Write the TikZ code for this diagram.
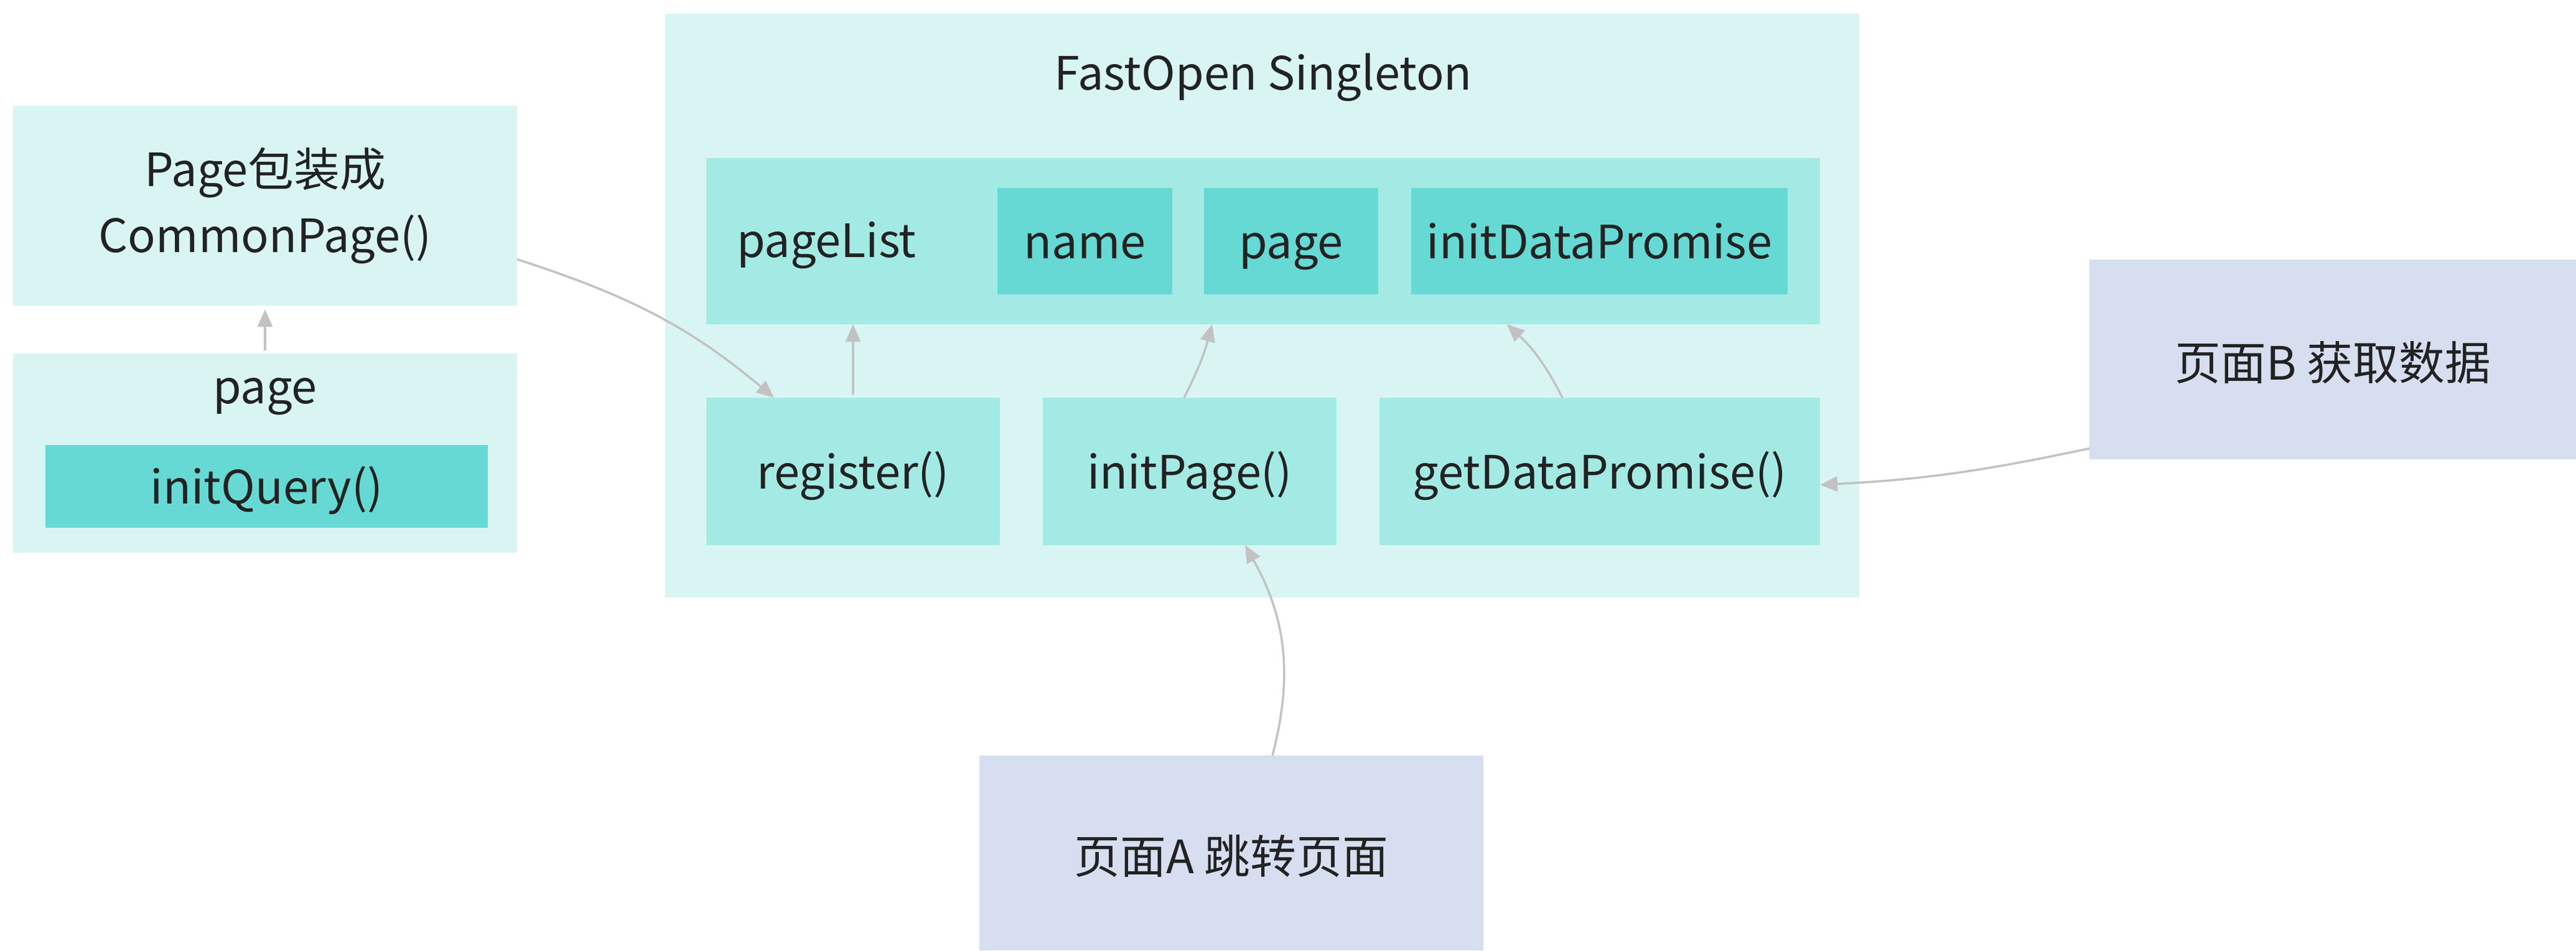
\documentclass[tikz,border=0pt]{standalone}
\usepackage{fontspec}
\setmainfont{Noto Sans CJK SC}
\usetikzlibrary{arrows.meta}
\definecolor{lightcyan}{HTML}{D8F5F4}
\definecolor{midcyan}{HTML}{A3EAE5}
\definecolor{darkcyan}{HTML}{66D9D4}
\definecolor{lavender}{HTML}{D6DEF0}
\definecolor{linegray}{HTML}{C2C2C2}
\definecolor{txt}{HTML}{222222}

\begin{document}
\begin{tikzpicture}[
		box/.style={inner sep=0pt,outer sep=0pt,text=txt,font=\fontsize{21}{30}\selectfont,align=center},
		oneline/.style={box,text height=16.2pt,text depth=0pt},
		outerbox/.style={box,fill=lightcyan},
		innerbox/.style={oneline,fill=midcyan},
		fieldbox/.style={oneline,fill=darkcyan},
		pagebox/.style={box,text height=18.5pt,text depth=0pt,fill=lavender},
		link/.style={draw=linegray,line width=1pt,->},
		>={Triangle[length=0.28cm,width=0.24cm]}
		]
		\useasboundingbox (0,0) rectangle (41.4,-15.27);
		
		% left side
		\node[outerbox,minimum width=8.1cm,minimum height=3.21cm] (wrap) at (4.26,-3.305) {Page包装成\\CommonPage()};
		\node[outerbox,minimum width=8.1cm,minimum height=3.2cm] (pageobj) at (4.26,-7.28) {};
		\node[oneline] (pagename) at (4.26,-6.205) {page};
		\node[fieldbox,minimum width=7.11cm,minimum height=1.33cm] (initquery) at (4.285,-7.815) {initQuery()};
		
		% singleton
		\node[outerbox,minimum width=19.19cm,minimum height=9.38cm] (single) at (20.285,-4.91) {};
		\node[oneline] (singletitle) at (20.3,-1.165) {FastOpen Singleton};
		\node[innerbox,minimum width=17.9cm,minimum height=2.67cm] (pagelist) at (20.3,-3.875) {};
		\node[oneline,anchor=west] (pagelisttext) at (11.84,-3.855) {pageList};
		\node[fieldbox,minimum width=2.81cm,minimum height=1.71cm] (fname) at (17.435,-3.875) {name};
		\node[fieldbox,minimum width=2.8cm,minimum height=1.71cm] (fpage) at (20.75,-3.875) {page};
		\node[fieldbox,minimum width=6.05cm,minimum height=1.71cm] (fpromise) at (25.705,-3.875) {initDataPromise};
		\node[innerbox,minimum width=4.72cm,minimum height=2.37cm] (register) at (13.71,-7.575) {register()};
		\node[innerbox,minimum width=4.72cm,minimum height=2.37cm] (initpage) at (19.12,-7.575) {initPage()};
		\node[innerbox,minimum width=7.08cm,minimum height=2.37cm] (getdata) at (25.71,-7.575) {getDataPromise()};
		
		% pages
		\node[pagebox,minimum width=7.82cm,minimum height=3.21cm] (pageB) at (37.49,-5.775) {页面B 获取数据};
		\node[pagebox,minimum width=8.1cm,minimum height=3.13cm] (pageA) at (19.79,-13.705) {页面A 跳转页面};
		
		\draw[link] ([yshift=0.05cm]pageobj.north) -- ([yshift=-0.06cm]wrap.south);
		\draw[link] (wrap.-12) to[out=-18,in=140] (register.137);
		\draw[link] ([yshift=0.05cm]register.north) -- (register.north |- pagelist.south);
		\draw[link] ([xshift=-0.09cm]initpage.north) to[bend right=6] ([xshift=-0.82cm]pagelist.south);
		\draw[link] ([xshift=-0.6cm]getdata.north) to[bend right=10] ([xshift=3.92cm]pagelist.south);
		\draw[link] ([yshift=-1.43cm]pageB.west) to[out=192,in=3] ([yshift=-0.215cm]getdata.east);
		\draw[link] ([xshift=0.66cm]pageA.north) to[bend right=22] ([xshift=0.89cm]initpage.south);
	\end{tikzpicture}
\end{document}
